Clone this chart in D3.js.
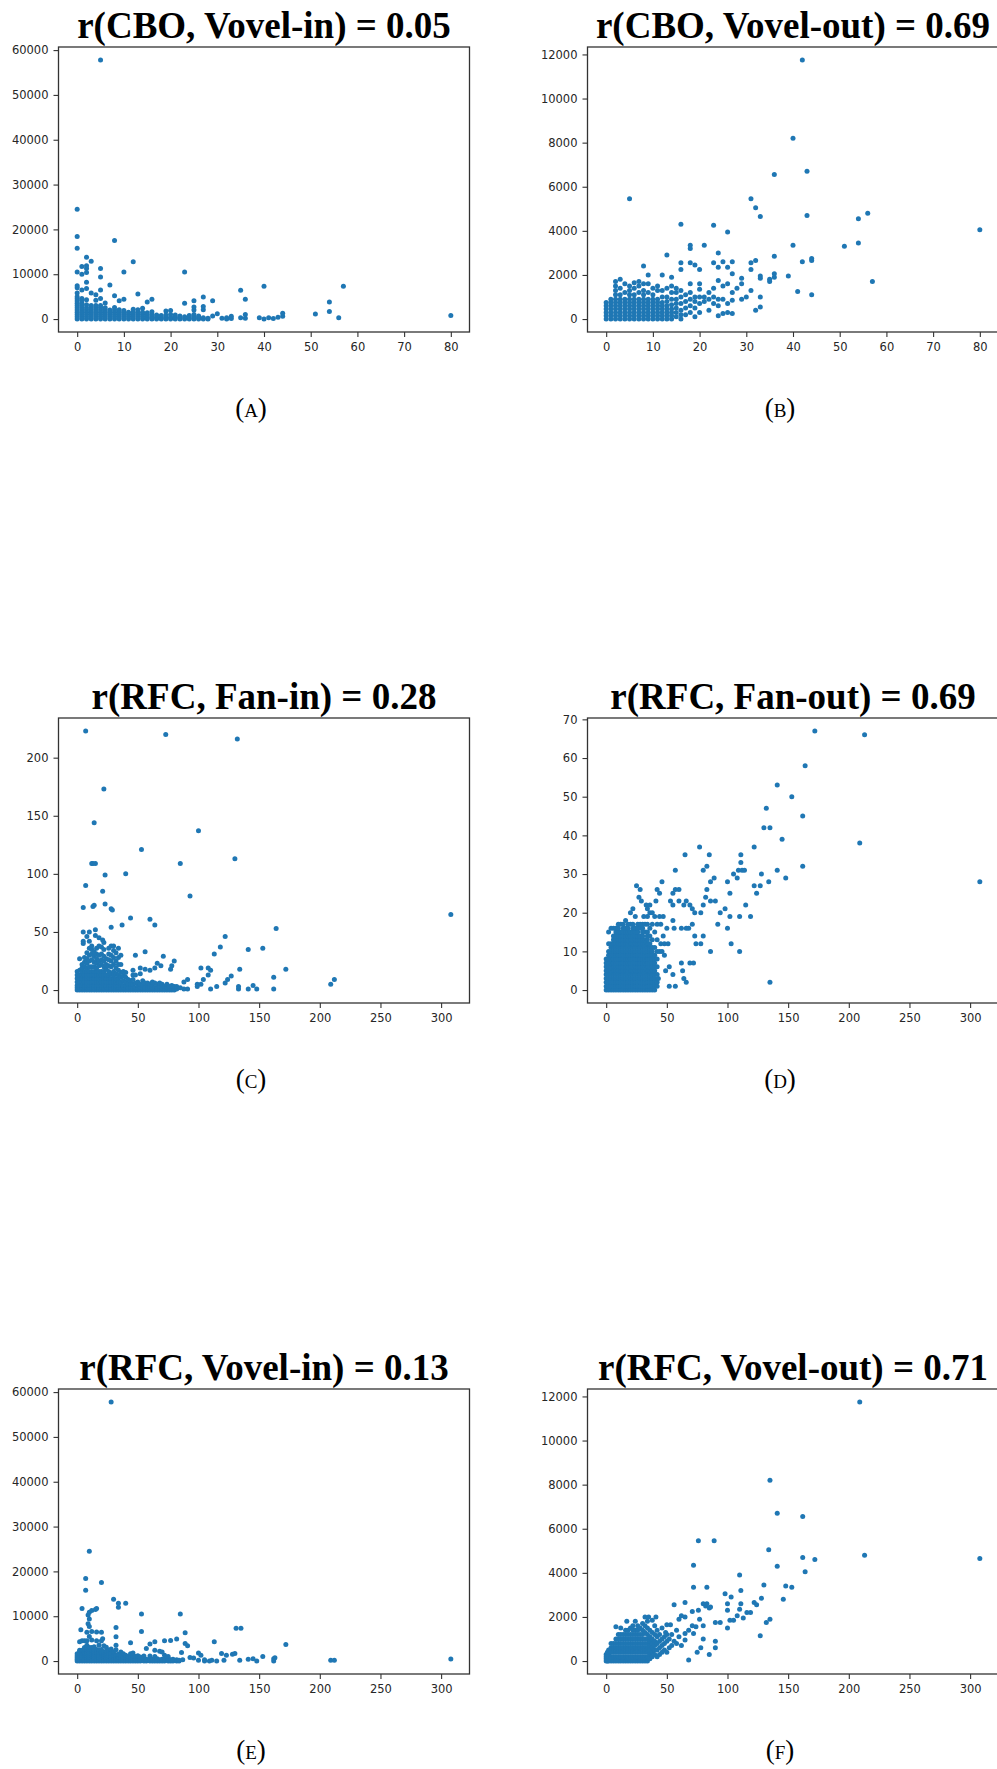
<!DOCTYPE html>
<html>
<head>
<meta charset="utf-8">
<script src="https://cdn.jsdelivr.net/npm/d3@7"></script>
<style>
  body { margin: 0; background: #fff; overflow: hidden; }
</style>
</head>
<body>
<div id="chart"></div>
<script>

// each entry: [x, [y values at that x]]
var cboVovelIn = [
  [0,[0,500,1000,1500,2000,2500,3000,3500,4000,4500,5000,5800,7000,7400,10500,15800,18400,24500]],
  [1,[0,500,1000,1500,2000,2500,3000,3500,4200,4600,6500,10000,11700]],
  [2,[0,500,1000,1500,2000,2500,3200,4300,6800,8200,10400,11300,11900,13800]],
  [3,[0,500,1000,1500,2000,2500,3000,5800,12900]],
  [4,[0,500,1000,1500,2000,2500,3000,4200,5400]],
  [5,[0,500,1000,1500,2000,2500,3000,4600,6500,9400,11300,57800]],
  [6,[0,500,1000,1500,2000,2500,3600]],
  [7,[0,500,1000,1500,2000,7600]],
  [8,[0,500,1000,1500,2000,2600,5200,17500]],
  [9,[0,500,1000,1500,2100,4100]],
  [10,[0,500,1000,1500,1900,4400,10500]],
  [11,[0,500,1000,1500]],
  [12,[0,500,1000,1500,2200,12800]],
  [13,[0,500,1000,1500,2100,5600]],
  [14,[0,500,1000,1500,2400]],
  [15,[0,400,900,1400,3800]],
  [16,[0,500,1000,1600,4400]],
  [17,[0,400,900]],
  [18,[0,300,800]],
  [19,[0,400,900,1800]],
  [20,[0,400,1000,1900]],
  [21,[0,400,900]],
  [22,[0,300,700]],
  [23,[0,500,3500,10500]],
  [24,[0,300,800]],
  [25,[0,500,1000,2000,2700,4100]],
  [26,[0,300,700]],
  [27,[0,300,2100,2800,4900]],
  [28,[0,200]],
  [29,[700,4100]],
  [30,[1200]], [31,[200]], [32,[0,300]], [33,[100,600]],
  [35,[300,6400]], [36,[200,1000,4400]], [39,[300]], [40,[0,7300]],
  [41,[300]], [42,[100]], [43,[400]], [44,[600,1300]],
  [51,[1100]], [54,[1700,3800]], [56,[300]], [57,[7300]], [80,[800]]
];

var cboVovelOut = [
  [0,[0,150,300,450,600,750]],
  [1,[0,150,300,450,600,750,900]],
  [2,[0,150,300,450,600,750,900,1100,1300,1500,1700]],
  [3,[0,150,300,450,600,750,900,1100,1400,1800]],
  [4,[0,150,300,450,600,750,900,1200,1600]],
  [5,[0,150,300,450,600,750,900,1100,1300,1500,5450]],
  [6,[0,150,300,450,600,750,900,1100,1400,1650]],
  [7,[0,150,300,450,600,750,900,1200,1500,1700]],
  [8,[0,150,300,450,600,750,900,1100,1300,1600,2400]],
  [9,[0,150,300,450,600,750,900,1200,1600,2000]],
  [10,[0,150,300,450,600,750,900,1100,1400]],
  [11,[0,150,300,450,600,750,900,1300,1500]],
  [12,[0,150,300,450,600,750,1000,1300,2000]],
  [13,[0,150,300,450,600,800,1000,1400,2900]],
  [14,[0,150,300,450,650,900,1200,1500,1900]],
  [15,[100,300,500,700,900,1200,1400]],
  [16,[0,200,400,700,1000,1300,2250,2550,4300]],
  [17,[200,500,800,1100]],
  [18,[300,600,900,1200,1600,2550,3200,3350]],
  [19,[100,500,800,1000,2450]],
  [20,[300,700,1000,1350,1600,2250]],
  [21,[800,1000,3350]],
  [22,[400,900,1200]],
  [23,[700,1000,1400,2550,4250]],
  [24,[150,600,900,1750,2350,3000]],
  [25,[250,900,1500,2600]],
  [26,[300,700,1600,2350,3950]],
  [27,[250,850,1200,2050,2600]],
  [28,[1400]], [29,[900,1600,1850]], [30,[1000]],
  [31,[1300,2250,2550,5450]], [32,[400,2650,5050]],
  [33,[550,1000,1850,1950,4650]], [35,[1700,1800]],
  [36,[1900,2050,2850,6550]], [39,[1950]], [40,[3350,8200]],
  [41,[1250]], [42,[2600,11750]], [43,[4700,6700]],
  [44,[1100,2650,2750]], [51,[3300]], [54,[3450,4550]],
  [56,[4800]], [57,[1700]], [80,[4050]]
];

var rfcFanIn = [
  [0,[0,2,4,7,10,13,16]],
  [2,[0,2,4,7,10,13,17,27]],
  [4,[0,2,4,7,10,13,16,19,22]],
  [5,[40,42,50,71]],
  [6,[0,2,4,7,10,13,16,20,24,28]],
  [7,[90,223]],
  [8,[0,2,4,7,10,13,16,19,23,27,32,46]],
  [10,[0,2,4,7,10,13,16,20,25,30,36,42,50]],
  [12,[0,2,4,7,10,13,16,20,26,31,35,38,109]],
  [13,[72,109]],
  [14,[0,2,4,7,10,13,16,20,24,29,33,73,144]],
  [15,[47,52,109]],
  [16,[0,2,4,7,10,13,16,19,23,27,31,36]],
  [18,[0,2,4,7,10,13,16,21,25,30,38,45]],
  [20,[0,2,4,7,10,13,16,22,26,31,37]],
  [21,[43,85]],
  [22,[0,2,4,7,10,13,16,20,25,29,35,41,173]],
  [23,[74,99]],
  [24,[0,2,4,7,10,13,18,22,27]],
  [26,[0,2,4,7,10,13,16,21,26,31,36]],
  [28,[0,2,4,7,10,14,20,25,30,38,54,70]],
  [29,[69]],
  [30,[0,2,4,7,10,13,16,22,28,34,38]],
  [32,[0,2,4,7,10,14,19,25,32]],
  [34,[0,2,4,7,10,13,17,22,28,36]],
  [36,[0,2,4,7,11,15,22,30]],
  [37,[56]],
  [38,[0,2,4,8,12,16]],
  [40,[0,2,4,7,11,15,100]],
  [42,[0,2,5,9]],
  [44,[0,2,5,8,62]],
  [46,[0,2,5,9,13,17]],
  [48,[0,2,6,13,30]],
  [50,[0,2,4,7]],
  [52,[0,2,5,14,19]],
  [53,[121]],
  [54,[0,2,4,8]],
  [56,[0,2,6,18,33]],
  [58,[0,2,4,6]],
  [60,[0,2,5,17,61]],
  [62,[0,2,4,7]],
  [64,[0,2,6,19,56]],
  [66,[0,2,5,23]],
  [68,[0,3,6]],
  [69,[21]],
  [70,[0,2,5]],
  [71,[29]],
  [72,[0,3]],
  [73,[220]],
  [74,[0,2,5]],
  [76,[0,3]],
  [77,[18]],
  [78,[0,4,21]],
  [80,[0,3,25]],
  [82,[1,3]], [85,[2,109]], [88,[1,7]], [91,[1,9]], [93,[81]],
  [99,[3,5]], [100,[137]], [102,[5,19]], [104,[9]], [108,[13,19]],
  [110,[1,17]], [113,[31]], [115,[3]], [118,[37]], [122,[6,46]],
  [124,[9]], [127,[12]], [130,[113]], [132,[216]], [133,[1,3]],
  [134,[18]], [141,[1,35]], [145,[4]], [148,[1]], [153,[36]],
  [162,[1,11]], [164,[53]], [172,[18]], [209,[5]], [212,[9]], [308,[65]]
];

var rfcFanOut = [
  [0,[0,1,2,3,4,5,6,7,8]],
  [2,[0,1,2,3,4,5,6,7,8,9,10,12,15]],
  [4,[0,1,2,3,4,5,6,7,8,9,10,11,12,16]],
  [6,[0,1,2,3,4,5,6,7,8,9,10,11,12,13,14,16]],
  [8,[0,1,2,3,4,5,6,7,8,9,10,11,12,13,14,15,16]],
  [10,[0,1,2,3,4,5,6,7,8,9,10,11,12,13,14,15,16,17]],
  [12,[0,1,2,3,4,5,6,7,8,9,10,11,12,13,14,15,17]],
  [14,[0,1,2,3,4,5,6,7,8,9,10,11,12,13,14,15,16,17]],
  [16,[0,1,2,3,4,5,6,7,8,9,10,11,12,13,14,15,16,18]],
  [18,[0,1,2,3,4,5,6,7,8,9,10,11,12,13,14,15,16,17]],
  [20,[0,1,2,3,4,5,6,7,8,9,10,11,12,13,14,15,17,20]],
  [22,[0,1,2,3,4,5,6,7,8,9,10,11,12,13,14,15,16,17,21]],
  [24,[0,1,2,3,4,5,6,7,8,9,10,11,12,13,14,15,16,19]],
  [25,[27]],
  [26,[0,1,2,3,4,5,6,7,8,9,10,11,12,13,14,15,16,17]],
  [27,[24]],
  [28,[0,1,2,3,4,5,6,7,8,9,10,11,12,13,14,16,17,26]],
  [29,[23]],
  [30,[0,1,2,3,4,5,6,7,8,9,10,11,12,13,14,15,16,17]],
  [31,[19]],
  [32,[0,1,2,3,4,5,6,7,8,9,10,11,12,13,15,17]],
  [33,[22]],
  [34,[0,1,2,3,4,5,6,7,8,9,10,11,12,13,14,15,17,19,21]],
  [36,[0,1,2,3,4,5,6,7,8,9,10,11,12,14,16,20,22]],
  [38,[0,1,2,3,4,5,6,7,8,9,10,11,13,17,20]],
  [40,[0,1,2,3,4,5,6,7,8,9,11,15,19]],
  [41,[23]],
  [42,[1,2,4,6,8,10,13,17,26]],
  [43,[3]], [44,[10,19,25]], [45,[12,17]], [46,[10,28]], [47,[14,19]],
  [48,[9,12]], [49,[5]], [50,[16]], [51,[12]], [52,[1,6]],
  [53,[23]], [55,[4,18,22,25]], [56,[16]], [57,[1,26,31]],
  [60,[23,26]], [62,[7,16]], [63,[5]], [64,[3,22]], [65,[35]],
  [66,[2,16,23]], [68,[16]], [69,[7,22]], [71,[17,21]], [72,[7]],
  [73,[14,20]], [74,[12]], [77,[37]], [78,[12,20]], [80,[14,22,31]],
  [82,[24]], [83,[26,32]], [85,[35]], [86,[10,23,28]], [89,[29]],
  [90,[23]], [92,[17]], [94,[20]], [98,[21]], [100,[16,28]],
  [102,[19,25]], [103,[12]], [105,[30]], [108,[29]], [109,[31]],
  [110,[10,19]], [111,[33,35]], [112,[31]], [114,[31]], [115,[22]],
  [119,[19]], [122,[27,37]], [124,[25]], [127,[27]], [128,[30]],
  [130,[42]], [132,[47]], [134,[28]], [135,[2,42]], [141,[31,53]],
  [145,[39]], [148,[29]], [153,[50]], [162,[32,45]], [164,[58]],
  [172,[67]], [209,[38]], [213,[66]], [308,[28]]
];

var rfcVovelIn = [
  [0,[0,400,800,1200,1600]],
  [2,[0,400,800,1200,1600,2000,2400,4300]],
  [3,[7000]],
  [4,[0,400,800,1200,1600,2000,2400,4500,11700]],
  [6,[0,400,800,1200,1600,2000,2500,3000,4500]],
  [7,[15800,18400]],
  [8,[0,400,800,1200,1600,2000,2500,3000,3500,4500,6400]],
  [9,[8300,10300]],
  [10,[0,400,800,1200,1600,2000,2500,3000,5500,7700,9400,10900,24500]],
  [12,[0,400,800,1200,1600,2000,2500,3000,4700,6600,11300]],
  [14,[0,400,800,1200,1600,2000,2500,3200]],
  [15,[11500]],
  [16,[0,400,800,1200,1600,2000,2600,4500,6500,11700]],
  [18,[0,400,800,1200,1600,2000,2500,3600]],
  [20,[0,400,800,1200,1600,2000,2600,4500,6400,17500]],
  [21,[5000]],
  [22,[0,400,800,1200,1600,2100,3400]],
  [24,[0,400,800,1200,1600,2200,3100]],
  [26,[0,400,800,1200,1700,2400]],
  [28,[0,400,800,1200,1800,2700,57800]],
  [30,[0,400,800,1300,2100,13800]],
  [32,[0,400,800,1400,2500,3500,5400,7500]],
  [34,[0,400,900,1500,12000,12900]],
  [36,[0,400,800,1300,2000]],
  [38,[0,400,900,1600]],
  [40,[0,400,800,1300,12900]],
  [42,[0,500,1000]],
  [44,[0,400,900,1600,4100]],
  [46,[0,500,1100,1800]],
  [48,[0,400,1000]],
  [50,[0,500,1200]],
  [52,[0,400,900]],
  [53,[6600,10500]],
  [55,[0,500,1100]],
  [57,[0,400,2800]],
  [60,[0,500,1100,3800]],
  [62,[0,400]],
  [64,[0,400,1000,2400,4300]],
  [66,[0,500]],
  [68,[0,300,2200]],
  [70,[0,400,2000]],
  [72,[0,400,1300,4500]],
  [75,[0,500,1000]],
  [77,[0,300,4600]],
  [79,[0,400]],
  [82,[0,300,4900]],
  [84,[0,200]],
  [85,[10500]], [86,[1900]], [87,[300]], [89,[3900,6300]], [91,[3400]],
  [93,[800]], [96,[700]], [100,[200,1800]], [102,[1300]], [105,[0,300]],
  [109,[0]], [111,[150]], [113,[4300]], [115,[0]], [119,[1700]],
  [121,[200]], [123,[1300]], [128,[1500]], [130,[1700]], [131,[7300]],
  [134,[150]], [135,[7300]], [141,[400]], [145,[500]], [148,[0]],
  [153,[1000]], [162,[0,500]], [163,[750]], [172,[3700]],
  [209,[150]], [212,[150]], [308,[450]]
];

var rfcVovelOut = [
  [0,[0,100,200,300]],
  [1,[0,200,400]],
  [2,[0,100,200,300,400,500]],
  [4,[0,200,400,600,800]],
  [6,[0,200,400,600,800]],
  [8,[0,200,400,600,800,1000,1550]],
  [10,[0,200,400,600,800,1000,1200]],
  [12,[0,200,400,600,800,1000,1200,1500]],
  [14,[0,200,400,600,800,1000,1200]],
  [16,[0,200,400,600,800,1000,1200,1400]],
  [17,[1800]],
  [18,[0,200,400,600,800,1000,1200,1400]],
  [20,[0,200,400,600,800,1000,1200,1500]],
  [22,[0,200,400,600,800,1000,1200,1400,1600]],
  [24,[0,200,400,600,800,1000,1200,1400,1800]],
  [26,[0,200,400,600,800,1000,1200,1400,1600]],
  [28,[0,200,400,600,800,1000,1200,1500]],
  [30,[0,200,400,600,800,1000,1200,1400,1700]],
  [32,[0,200,400,600,800,1000,1300,1600,2000]],
  [34,[0,200,400,600,800,1000,1200,1500,1800]],
  [35,[2000]],
  [36,[100,300,500,700,900,1100,1400]],
  [38,[200,400,600,800,1000,1300,1850]],
  [40,[300,500,700,900,1200,1600]],
  [41,[2000]],
  [42,[200,500,800,1100,1400]],
  [44,[300,600,900,1200]],
  [46,[400,700,1000,1500]],
  [48,[500,800,1100]],
  [49,[1300]],
  [50,[400,900,1200,1650]],
  [52,[600,1000]], [53,[1650]], [54,[700,1200]], [56,[900,2550]],
  [58,[800,1400]], [60,[1100,1900]], [62,[700,2050]],
  [65,[950,1250,2000,2650]], [68,[50,1400]], [71,[1600,2250]],
  [72,[1250,3350,4350]], [74,[1550]], [75,[400]], [76,[2300,5450]],
  [77,[1900]], [78,[600]], [80,[1000,1600,2600]], [82,[2500]],
  [83,[2600,3350]], [85,[300,2400]], [86,[2450]], [89,[5450]],
  [90,[600,900,1750]], [94,[1750]], [98,[3050]], [100,[1500,2300,2600]],
  [102,[1850]], [103,[2900]], [105,[1850]], [108,[2050]],
  [110,[2350,3900]], [111,[2600,3200]], [113,[1950]], [116,[2200]],
  [119,[2200]], [122,[2650]], [124,[2550]], [127,[1150]], [128,[2850]],
  [130,[3450]], [132,[1750]], [134,[5050]], [135,[1900,8200]],
  [141,[4300,6700]], [146,[2800]], [148,[3400]], [153,[3350]],
  [162,[4700,6550]], [164,[4050]], [172,[4600]], [209,[11750]],
  [213,[4800]], [308,[4650]]
];

var titles = [
  "r(CBO, Vovel-in) = 0.05", "r(CBO, Vovel-out) = 0.69",
  "r(RFC, Fan-in) = 0.28", "r(RFC, Fan-out) = 0.69",
  "r(RFC, Vovel-in) = 0.13", "r(RFC, Vovel-out) = 0.71"
];
var subLabels = ["a", "b", "c", "d", "e", "f"];

var cboTicks = [0, 10, 20, 30, 40, 50, 60, 70, 80];
var rfcTicks = [0, 50, 100, 150, 200, 250, 300];
var vovelInTicks = [0, 10000, 20000, 30000, 40000, 50000, 60000];
var vovelOutTicks = [0, 2000, 4000, 6000, 8000, 10000, 12000];
var fanInTicks = [0, 50, 100, 150, 200];
var fanOutTicks = [0, 10, 20, 30, 40, 50, 60, 70];

var panels = [
  { data: cboVovelIn,  xt: cboTicks, yt: vovelInTicks },
  { data: cboVovelOut, xt: cboTicks, yt: vovelOutTicks },
  { data: rfcFanIn,    xt: rfcTicks, yt: fanInTicks },
  { data: rfcFanOut,   xt: rfcTicks, yt: fanOutTicks },
  { data: rfcVovelIn,  xt: rfcTicks, yt: vovelInTicks },
  { data: rfcVovelOut, xt: rfcTicks, yt: vovelOutTicks }
];

var width = 997, height = 1769;
var colLeft = [58.5, 587.5], rowTop = [47, 718, 1389];
var plotW = 411, plotH = 285;

var svg = d3.select("#chart").append("svg")
    .attr("width", width)
    .attr("height", height)
    .style("font-family", "'DejaVu Sans', sans-serif");

// matplotlib style autoscale: 5% margin on each side
function padded(ext) {
  var r = ext[1] - ext[0];
  return [ext[0] - 0.05 * r, ext[1] + 0.05 * r];
}

panels.forEach(function (p, i) {
  var left = colLeft[i % 2], top = rowTop[Math.floor(i / 2)];
  var pts = p.data.flatMap(function (c) { return c[1].map(function (v) { return [c[0], v]; }); });

  var x = d3.scaleLinear()
      .domain(padded(d3.extent(pts, function (d) { return d[0]; })))
      .range([left, left + plotW]);
  var y = d3.scaleLinear()
      .domain(padded(d3.extent(pts, function (d) { return d[1]; })))
      .range([top + plotH, top]);

  var g = svg.append("g");

  g.selectAll("circle").data(pts).enter().append("circle")
      .attr("cx", function (d) { return x(d[0]); })
      .attr("cy", function (d) { return y(d[1]); })
      .attr("r", 2.5)
      .attr("fill", "#1f77b4");

  var xa = g.append("g")
      .attr("transform", "translate(0," + (top + plotH) + ")")
      .call(d3.axisBottom(x).tickValues(p.xt).tickSize(5).tickPadding(6).tickFormat(d3.format("d")));
  var ya = g.append("g")
      .attr("transform", "translate(" + left + ",0)")
      .call(d3.axisLeft(y).tickValues(p.yt).tickSize(5).tickPadding(5).tickFormat(d3.format("d")));

  [xa, ya].forEach(function (a) {
    a.select(".domain").remove();
    a.selectAll("line").attr("stroke", "#333").attr("stroke-width", 1.1);
    a.selectAll("text")
      .attr("fill", "#262626")
      .style("font-size", "11.5px")
      .style("font-family", "'DejaVu Sans', sans-serif");
  });

  g.append("rect")
      .attr("x", left).attr("y", top)
      .attr("width", plotW).attr("height", plotH)
      .attr("fill", "none")
      .attr("stroke", "#333")
      .attr("stroke-width", 1.3);

  g.append("text")
      .attr("x", left + plotW / 2)
      .attr("y", top - 9)
      .attr("text-anchor", "middle")
      .style("font-family", "'Liberation Serif', 'Times New Roman', serif")
      .style("font-weight", "bold")
      .style("font-size", "37px")
      .attr("fill", "#000")
      .text(titles[i]);

  g.append("text")
      .attr("x", left + 192.5)
      .attr("y", top + 370)
      .attr("text-anchor", "middle")
      .style("font-family", "'Liberation Serif', 'Times New Roman', serif")
      .style("font-variant", "small-caps")
      .style("font-size", "27px")
      .attr("fill", "#000")
      .text("(" + subLabels[i] + ")");
});

</script>
</body>
</html>
